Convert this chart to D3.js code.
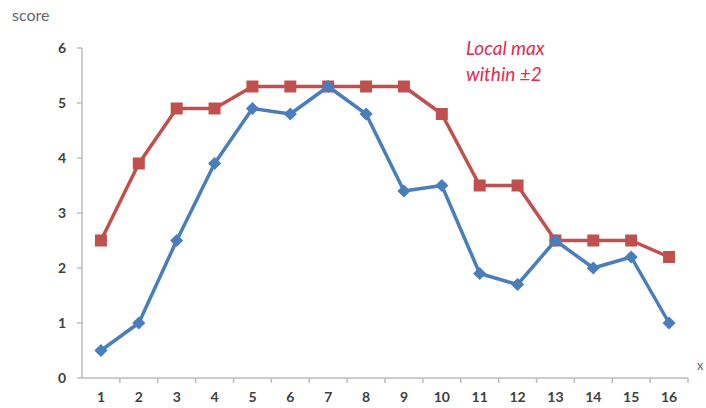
<!DOCTYPE html>
<html>
<head>
<meta charset="utf-8">
<script src="https://cdn.jsdelivr.net/npm/d3@7"></script>
<style>
  body { margin: 0; background: #fff; }
  svg { display: block; font-family: Lato, "Open Sans", sans-serif; }
</style>
</head>
<body>
<div id="chart"></div>
<script>
let categories = ["1", "2", "3", "4", "5", "6", "7", "8", "9", "10", "11", "12", "13", "14", "15", "16"];
let scoreValues = [0.5, 1.0, 2.5, 3.9, 4.9, 4.8, 5.3, 4.8, 3.4, 3.5, 1.9, 1.7, 2.5, 2.0, 2.2, 1.0];
let localMaxValues = [2.5, 3.9, 4.9, 4.9, 5.3, 5.3, 5.3, 5.3, 5.3, 4.8, 3.5, 3.5, 2.5, 2.5, 2.5, 2.2];
let yTicks = [0, 1, 2, 3, 4, 5, 6];

let width = 706;
let height = 408;
let margin = ({ top: 48, right: 18, bottom: 30, left: 82 });
let blue = "#4a7ebb";
let red = "#c0504d";
let axisColor = "#bcbcbc";

const svg = d3.select("#chart").append("svg")
    .attr("width", width)
    .attr("height", height);

let x = d3.scaleBand()
    .domain(categories)
    .range([margin.left, width - margin.right]);

let y = d3.scaleLinear()
    .domain([0, 6])
    .range([height - margin.bottom, margin.top]);

// x axis: ticks on band boundaries, labels at centres
let xAxis = svg.append("g")
    .attr("transform", `translate(0,${y(0)})`);
xAxis.append("line")
    .attr("x1", x.range()[0]).attr("x2", x.range()[1])
    .attr("stroke", axisColor).attr("stroke-width", 1.5);
xAxis.selectAll(".tick")
    .data(categories)
    .join("line")
    .attr("x1", d => x(d) + x.bandwidth())
    .attr("x2", d => x(d) + x.bandwidth())
    .attr("y1", 0).attr("y2", 5)
    .attr("stroke", axisColor).attr("stroke-width", 1.5);
xAxis.selectAll("text")
    .data(categories)
    .join("text")
    .attr("x", d => x(d) + x.bandwidth() / 2)
    .attr("y", 24)
    .attr("text-anchor", "middle")
    .attr("font-size", 14)
    .attr("font-weight", "bold")
    .attr("fill", "#404040")
    .text(d => d);

// y axis
let yAxis = svg.append("g")
    .attr("transform", `translate(${margin.left},0)`);
yAxis.append("line")
    .attr("y1", y(0)).attr("y2", y(6))
    .attr("stroke", axisColor).attr("stroke-width", 1.5);
yAxis.selectAll("line.tick")
    .data(yTicks)
    .join("line")
    .attr("class", "tick")
    .attr("x1", -5).attr("x2", 0)
    .attr("y1", d => y(d)).attr("y2", d => y(d))
    .attr("stroke", axisColor).attr("stroke-width", 1.5);
yAxis.selectAll("text")
    .data(yTicks)
    .join("text")
    .attr("x", -16)
    .attr("y", d => y(d))
    .attr("dy", "0.35em")
    .attr("text-anchor", "end")
    .attr("font-size", 14)
    .attr("font-weight", "bold")
    .attr("fill", "#404040")
    .text(d => d);

svg.append("text")
    .attr("x", 12).attr("y", 21)
    .attr("font-size", 16)
    .attr("fill", "#666")
    .text("score");

svg.append("text")
    .attr("x", 697).attr("y", 370)
    .attr("font-size", 13)
    .attr("fill", "#666")
    .text("x");

let line = d3.line()
    .x((d, i) => x(categories[i]) + x.bandwidth() / 2)
    .y(d => y(d));

// red: local max within ±2
svg.append("path")
    .datum(localMaxValues)
    .attr("fill", "none")
    .attr("stroke", red)
    .attr("stroke-width", 3.5)
    .attr("stroke-linejoin", "round")
    .attr("d", line);
svg.selectAll("rect.sq")
    .data(localMaxValues)
    .join("rect")
    .attr("class", "sq")
    .attr("x", (d, i) => x(categories[i]) + x.bandwidth() / 2 - 6)
    .attr("y", d => y(d) - 6)
    .attr("width", 12).attr("height", 12)
    .attr("fill", red);

// blue: score
svg.append("path")
    .datum(scoreValues)
    .attr("fill", "none")
    .attr("stroke", blue)
    .attr("stroke-width", 3.5)
    .attr("stroke-linejoin", "round")
    .attr("d", line);
svg.selectAll("path.dia")
    .data(scoreValues)
    .join("path")
    .attr("class", "dia")
    .attr("transform", (d, i) => `translate(${x(categories[i]) + x.bandwidth() / 2},${y(d)})`)
    .attr("d", d3.symbol(d3.symbolDiamond2, 110))
    .attr("fill", blue);

let note = svg.append("text")
    .attr("font-size", 19)
    .attr("font-style", "italic")
    .attr("fill", "#e32c4c");
note.append("tspan").attr("x", 466).attr("y", 55).text("Local max");
note.append("tspan").attr("x", 466).attr("y", 81).text("within ±2");
</script>
</body>
</html>
